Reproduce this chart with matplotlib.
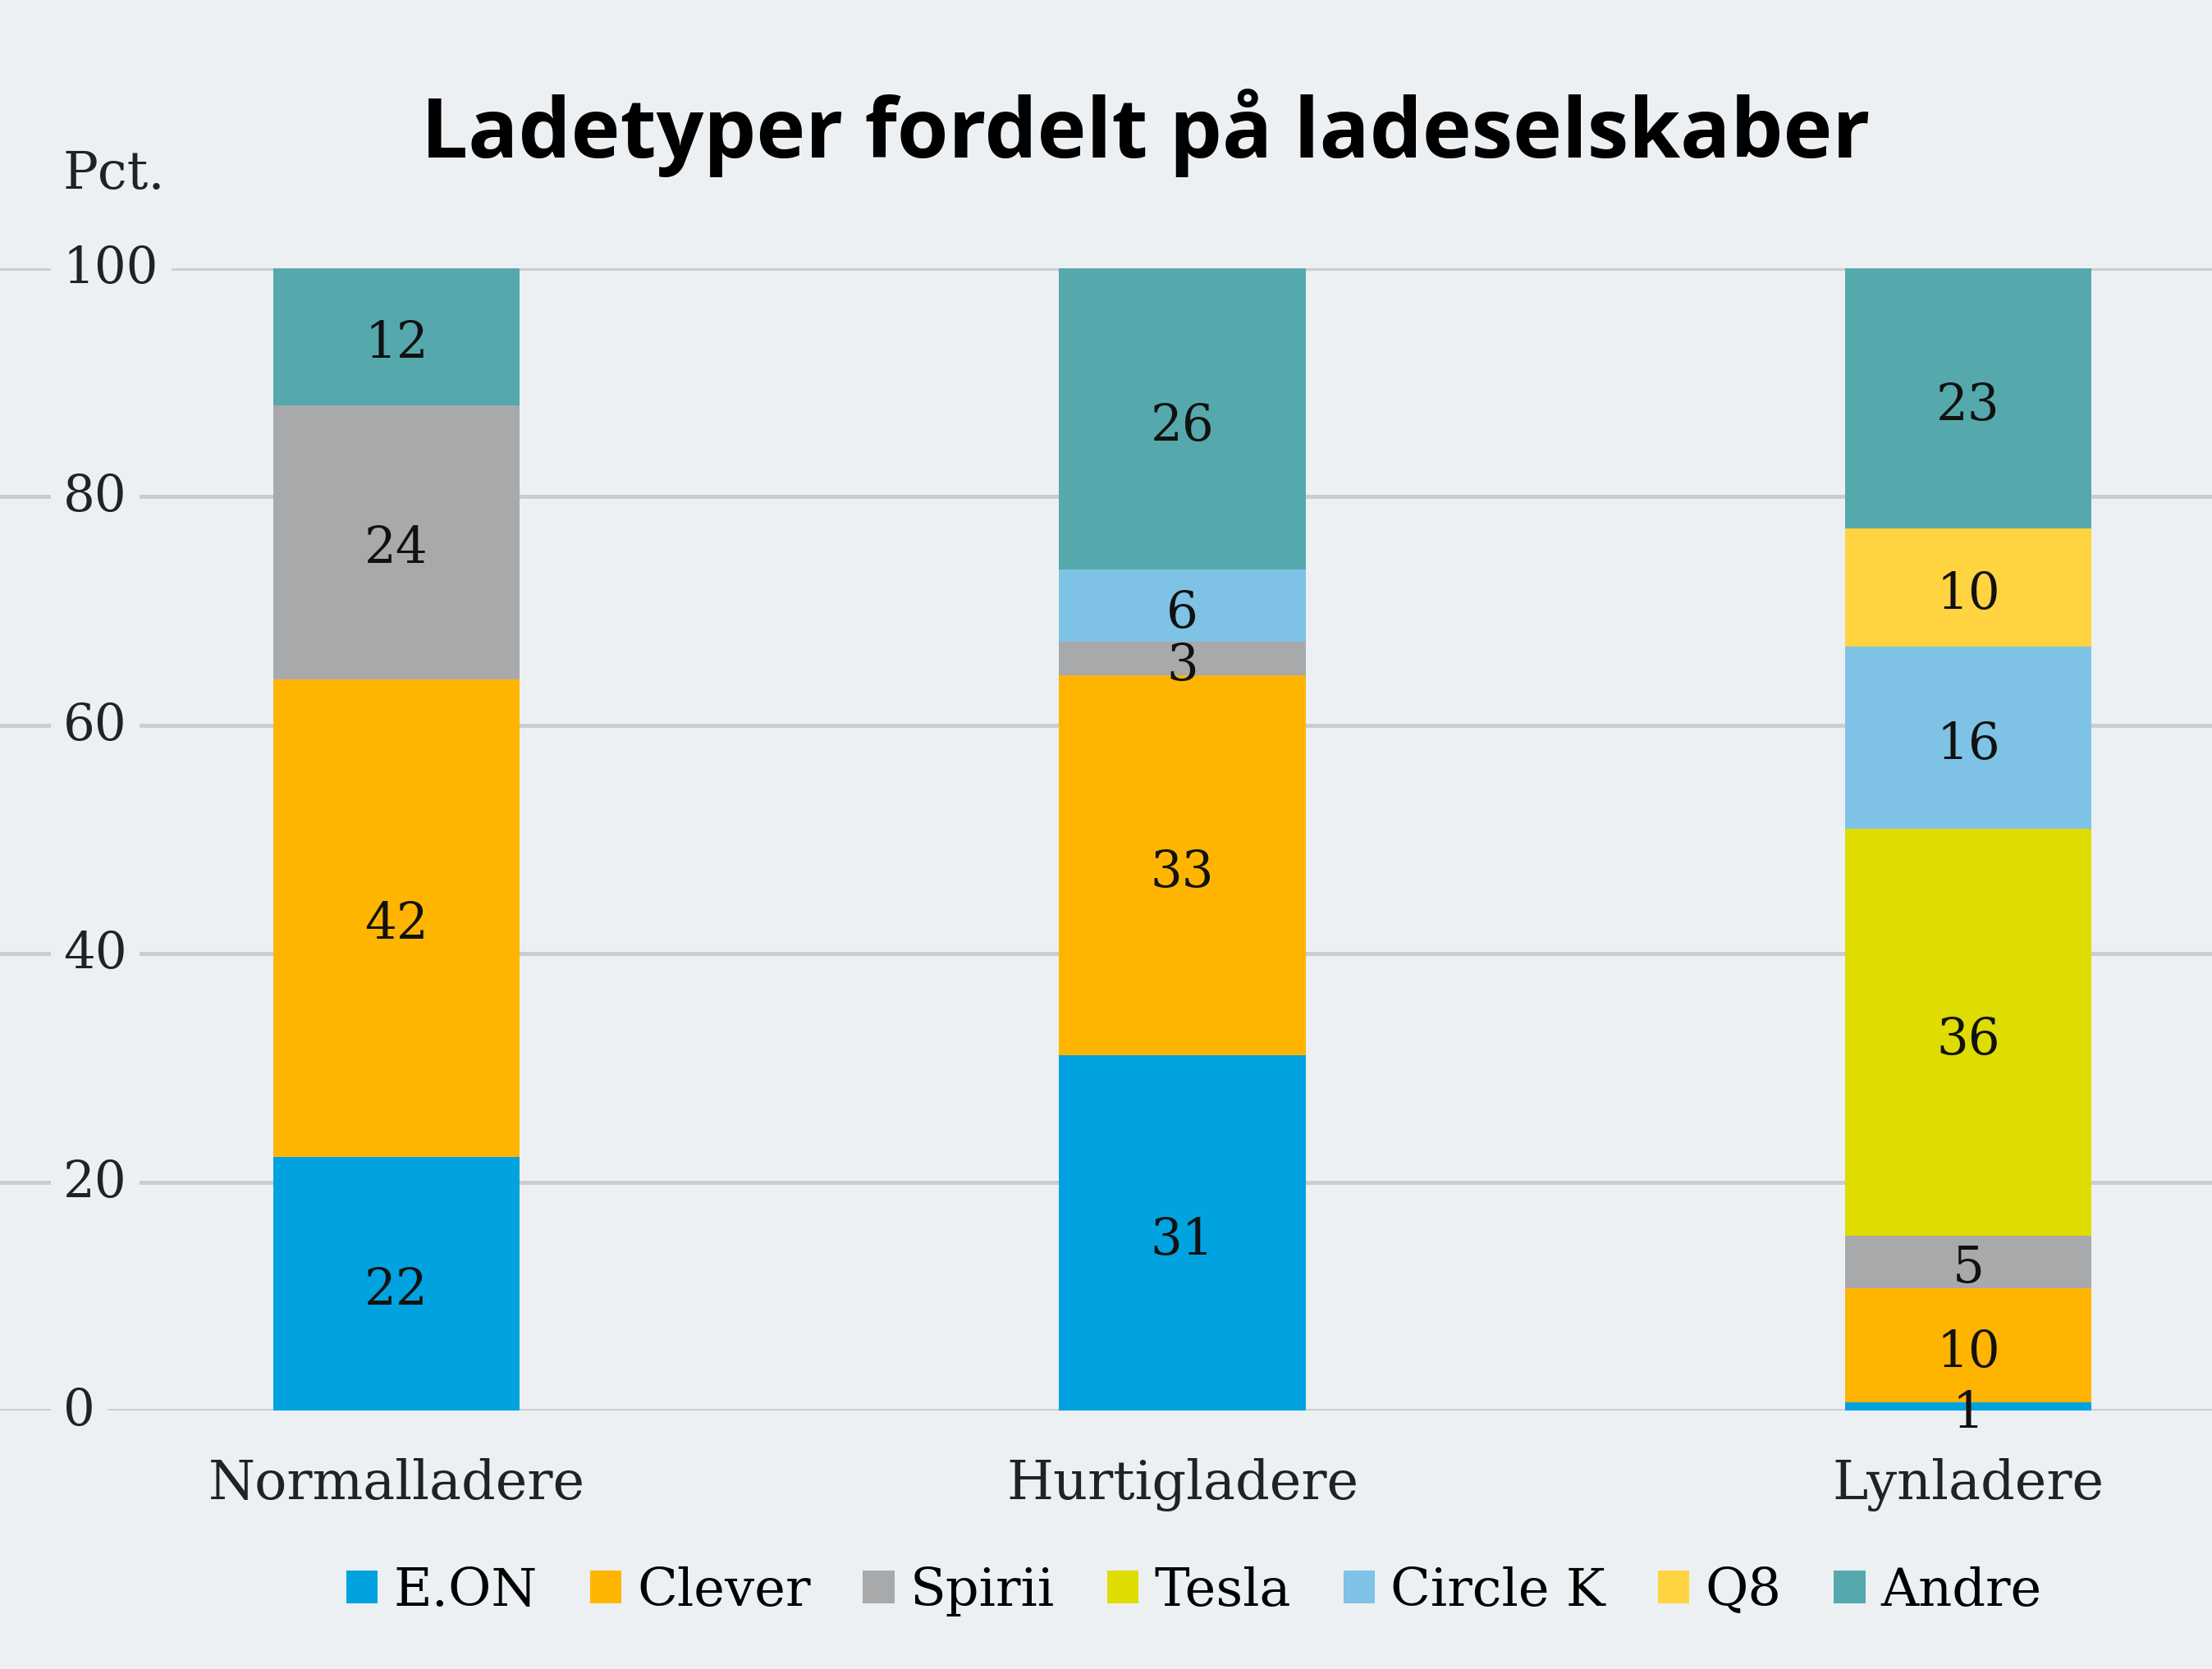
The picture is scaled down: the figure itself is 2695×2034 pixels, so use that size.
import matplotlib
matplotlib.use("Agg")
import matplotlib.pyplot as plt
import matplotlib.transforms as mtransforms
from matplotlib.patches import Patch
import numpy as np

categories = ["Normalladere", "Hurtigladere", "Lynladere"]
series_names = ["E.ON", "Clever", "Spirii", "Tesla", "Circle K", "Q8", "Andre"]
eon = [22.2, 31.1, 0.7]
clever = [41.8, 33.3, 10.0]
spirii = [24.0, 2.9, 4.6]
tesla = [0.0, 0.0, 35.6]
circlek = [0.0, 6.3, 16.0]
q8 = [0.0, 0.0, 10.3]
andre = [12.0, 26.4, 22.8]
series_values = [eon, clever, spirii, tesla, circlek, q8, andre]
colors = ["#00A3E0", "#FFB500", "#A7A9AB", "#DEDC00", "#7EC2E6", "#FFD440", "#55A9AD"]
yticks = [0, 20, 40, 60, 80, 100]

BG = "#ECF0F3"
GRID = "#CBCCCE"
SERIF = ["DejaVu Serif"]

fig = plt.figure(figsize=(26.95, 20.34), dpi=100, facecolor=BG)
ax = fig.add_axes([0, 1 - 1719 / 2034, 1, (1719 - 327) / 2034])
ax.set_facecolor(BG)
for s in ax.spines.values():
    s.set_visible(False)

x = np.arange(len(categories))
spacing = 957.5
ax.set_xlim(-483 / spacing, (2695 - 483) / spacing)
ax.set_ylim(0, 100)
ax.set_xticks([])
ax.set_yticks([])

for yv in yticks:
    ax.axhline(yv, color=GRID, lw=3.5, zorder=0)

label_offset = mtransforms.offset_copy(ax.transData, fig=fig, x=0, y=-6, units="points")
bottom = np.zeros(len(categories))
for name, vals, col in zip(series_names, series_values, colors):
    vals = np.array(vals)
    ax.bar(x, vals, 0.314, bottom=bottom, color=col, zorder=2, label=name)
    for xi, b, v in zip(x, bottom, vals):
        if v > 0:
            ax.text(xi, b + v / 2, f"{v:.0f}", ha="center", va="center",
                    fontsize=44, family=SERIF, color="#111111", zorder=4,
                    transform=label_offset)
    bottom += vals

trans = mtransforms.blended_transform_factory(fig.transFigure, ax.transData)
for yv in yticks:
    ax.text(77 / 2695, yv, f"{yv}", transform=trans, ha="left", va="center",
            fontsize=44, family=SERIF, color="#222222", zorder=3,
            bbox=dict(boxstyle="square,pad=0.25", fc=BG, ec="none"))

for xi, c in zip(x, categories):
    ax.text(xi, -6.5, c, ha="center", va="center", fontsize=47, family=SERIF,
            color="#222222", clip_on=False)

fig.text(77 / 2695, 1 - 212 / 2034, "Pct.", ha="left", va="center",
         fontsize=46, family=SERIF, color="#222222")

fig.text(1396 / 2695, 1 - 162 / 2034, "Ladetyper fordelt på ladeselskaber",
         ha="center", va="center", fontsize=73, family="Open Sans",
         fontweight="bold", color="#000000")

handles = [Patch(facecolor=c, edgecolor="none") for c in colors]
fig.legend(handles, series_names, loc="center", bbox_to_anchor=(1455 / 2695, 1 - 1939 / 2034),
           ncol=7, frameon=False, handlelength=0.6, handleheight=0.6,
           handletextpad=0.3, columnspacing=1.0,
           prop={"family": SERIF, "size": 46})

fig.savefig("out.png", dpi=100, facecolor=BG)
